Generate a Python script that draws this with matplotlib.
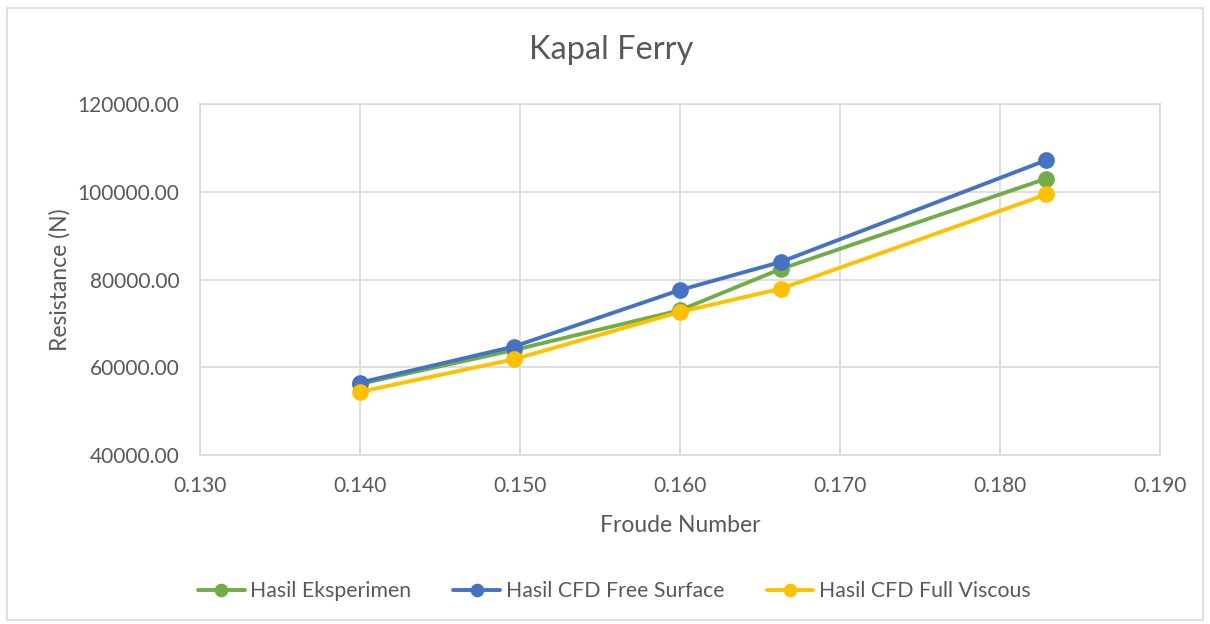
import matplotlib
matplotlib.use("Agg")
import matplotlib.pyplot as plt
from matplotlib.patches import Rectangle
from matplotlib.ticker import FormatStrFormatter

plt.rcParams['font.family'] = ['Lato', 'DejaVu Sans']

froude = [0.1400, 0.1496, 0.1600, 0.1663, 0.1829]
eksperimen = [56200, 63900, 73000, 82400, 103000]
free_surface = [56500, 64700, 77600, 84000, 107200]
full_viscous = [54400, 61800, 72600, 77900, 99400]

labels = ["Hasil Eksperimen", "Hasil CFD Free Surface", "Hasil CFD Full Viscous"]
colors = ["#70AD47", "#4472C4", "#FFC000"]
text_color = "#595959"
grid_color = "#D9D9D9"

fig = plt.figure(figsize=(12.1, 6.24), dpi=100)
ax = fig.add_axes([200/1210, 1 - 455/624, 960/1210, 351/624])

# outer chart border
fig.patches.append(Rectangle((7/1210, 4/624), 1196/1210, 612/624, transform=fig.transFigure,
                             fill=False, edgecolor=grid_color, linewidth=1.2))

series = [eksperimen, free_surface, full_viscous]
for vals, lab, col in zip(series, labels, colors):
    ax.plot(froude, vals, color=col, linewidth=2.8, marker='o', markersize=11,
            label=lab, solid_capstyle='round')

ax.set_xlim(0.130, 0.190)
ax.set_ylim(40000, 120000)
ax.set_xticks([0.130, 0.140, 0.150, 0.160, 0.170, 0.180, 0.190])
ax.set_yticks([40000, 60000, 80000, 100000, 120000])
ax.xaxis.set_major_formatter(FormatStrFormatter('%.3f'))
ax.yaxis.set_major_formatter(FormatStrFormatter('%.2f'))
ax.grid(True, color=grid_color, linewidth=1.2)
ax.set_axisbelow(True)
for s in ax.spines.values():
    s.set_color(grid_color)
    s.set_linewidth(1.2)
ax.tick_params(length=0, labelsize=15, colors=text_color)
ax.tick_params(axis='y', pad=15)
ax.tick_params(axis='x', pad=15)

fig.text(611/1210, 1 - 50/624, "Kapal Ferry", fontsize=23.5, color=text_color,
         ha='center', va='center')
ax.set_xlabel("Froude Number", fontsize=16.5, color=text_color, labelpad=14)
ax.set_ylabel("Resistance (N)", fontsize=16.5, color=text_color, labelpad=5)

handles, _ = ax.get_legend_handles_labels()
leg = fig.legend(handles=handles, labels=labels, loc='center', bbox_to_anchor=(614/1210, 1 - 591/624),
                 ncol=3, frameon=False, fontsize=15.3, handlelength=2.2, columnspacing=2.0,
                 handletextpad=0.25, markerscale=0.8)
for t in leg.get_texts():
    t.set_color(text_color)

fig.savefig("out.png", dpi=100)
